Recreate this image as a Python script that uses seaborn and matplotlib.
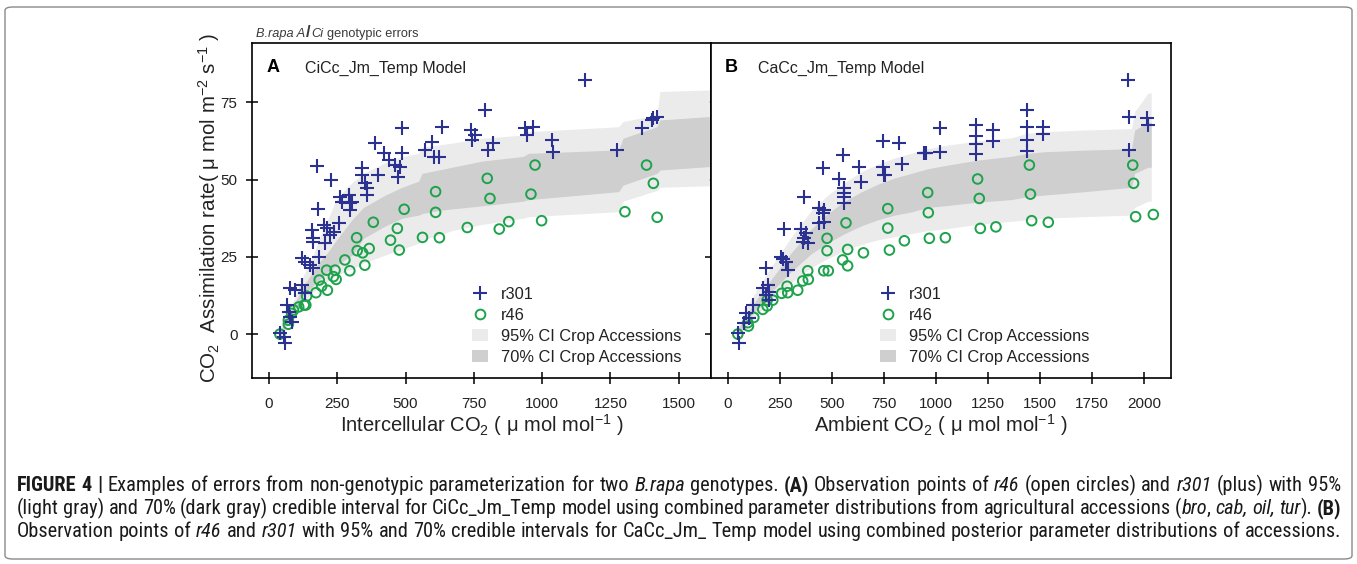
import re
import matplotlib
matplotlib.use("Agg")
import matplotlib.pyplot as plt
import seaborn as sns
from matplotlib import font_manager
from matplotlib.lines import Line2D
from matplotlib.patches import Patch, FancyBboxPatch

# ---------------- Panel A: assimilation vs intercellular CO2 ----------------
ci_r301 = [41, 54, 60, 66, 72, 78, 84, 78, 96, 121, 133, 121, 133, 151, 163, 182, 157, 163, 163, 200,
           206, 212, 224, 237, 255, 178, 176, 227, 261, 267, 292, 298, 298, 304, 340, 340, 353, 359, 359, 398,
           389, 422, 438, 462, 481, 487, 471, 487, 572, 597, 603, 621, 633, 739, 755, 743, 790, 821, 803, 937,
           968, 943, 1035, 1038, 1157, 1275, 1364, 1401, 1407, 1419]
a_ci_r301 = [0.2, -0.9, -3.0, 9.4, 7.2, 5.6, 4.0, 14.8, 14.2, 24.5, 23.4, 15.9, 13.2, 22.3, 21.3, 25.0, 33.7, 31.0, 29.9, 35.3,
             29.4, 34.2, 32.1, 33.1, 35.8, 40.5, 54.4, 49.9, 44.5, 42.8, 45.0, 42.3, 40.2, 42.8, 53.7, 51.5, 49.0, 47.2, 45.0, 51.5,
             61.7, 58.5, 56.3, 54.7, 54.2, 58.5, 51.0, 66.6, 59.6, 62.3, 57.4, 57.4, 67.0, 66.0, 64.4, 62.8, 72.5, 61.7, 59.6, 66.6,
             67.1, 64.4, 62.8, 59.0, 82.3, 59.6, 66.6, 69.3, 69.8, 70.4]
ci_r46 = [40, 71, 71, 83, 90, 109, 129, 135, 138, 172, 184, 193, 211, 214, 236, 242, 246, 278, 296, 321,
          323, 343, 351, 367, 382, 445, 470, 477, 495, 562, 610, 610, 624, 726, 799, 809, 843, 878, 959, 974,
          998, 1303, 1382, 1407, 1421]
a_ci_r46 = [0.0, 3.2, 4.5, 6.7, 7.8, 8.8, 9.4, 9.4, 12.3, 13.4, 17.5, 15.5, 20.7, 14.2, 18.6, 20.7, 17.7, 24.0, 20.5, 31.2,
            27.0, 26.3, 22.3, 27.7, 36.2, 30.4, 34.2, 27.2, 40.4, 31.3, 46.1, 39.4, 31.2, 34.5, 50.4, 43.9, 34.0, 36.4, 45.3, 54.7,
            36.7, 39.6, 54.7, 48.8, 37.8]

# credible bands for the crop accessions (panel A)
band_ci = [40, 60, 84, 121, 160, 182, 220, 243, 285, 304, 346, 426, 487, 548, 560, 621, 670, 780, 930, 950,
           1280, 1296, 1420, 1431, 1612]
ci_lo95 = [-1.5, 1.5, 5, 10, 13.5, 15, 17.5, 18.6, 20.5, 21, 23, 25.6, 27.5, 29.4, 30.5, 32, 33.5, 35.5, 37.5, 38,
           39.6, 43, 46.5, 47.5, 48]
ci_lo70 = [-0.8, 2.5, 6, 12, 15.5, 17.5, 20.5, 22, 24.5, 25.5, 31, 35, 37.5, 38.5, 39, 40, 40.5, 41.5, 43, 43.5,
           46.1, 48.2, 52, 53.1, 54.2]
ci_hi70 = [0.8, 4, 8, 15, 20, 23, 27, 30, 34.8, 37, 41, 45, 47.5, 49.5, 52, 53.1, 54, 56, 57.5, 58.5,
           59.6, 63.4, 67.1, 69.3, 70.4]
ci_hi95 = [1.5, 5.5, 9.5, 18, 25, 30.5, 38, 43, 47.5, 49, 52, 55.5, 57.4, 58.5, 60.5, 61.2, 61.8, 63.4, 64.4, 65.5,
           67.1, 68.8, 70.9, 78.5, 79]

# ---------------- Panel B: assimilation vs ambient CO2 ----------------
ca_r301 = [47, 54, 78, 87, 102, 119, 167, 191, 199, 183, 199, 183, 255, 263, 279, 287, 271, 351, 375, 367,
           359, 383, 364, 439, 463, 455, 439, 463, 455, 535, 551, 557, 557, 557, 557, 631, 639, 747, 824, 747,
           835, 752, 756, 944, 948, 952, 1019, 1019, 1192, 1192, 1192, 1192, 1273, 1273, 1437, 1437, 1437, 1437, 1516, 1516,
           1921, 1930, 1930, 2014, 2019]
a_ca_r301 = [0.2, -3.0, 3.5, 6.7, 5.1, 9.4, 14.8, 15.9, 13.7, 12.6, 11.0, 21.3, 25.0, 24.2, 23.4, 20.7, 33.9, 33.9, 32.6, 31.0,
             29.9, 29.4, 44.3, 40.7, 40.2, 39.1, 35.8, 36.4, 53.7, 50.1, 58.0, 47.2, 45.6, 44.5, 42.3, 54.2, 49.3, 62.5, 61.7, 54.2,
             54.9, 51.5, 51.5, 58.5, 58.5, 58.5, 66.6, 59.0, 67.7, 64.1, 61.5, 58.3, 66.1, 62.6, 72.5, 66.9, 62.8, 59.4, 66.9, 64.8,
             82.3, 70.2, 59.6, 69.8, 67.7]
ca_r46 = [47, 95, 98, 124, 167, 188, 188, 215, 258, 284, 287, 335, 359, 383, 386, 460, 482, 476, 476, 551,
          575, 575, 567, 651, 776, 768, 768, 848, 960, 963, 968, 1045, 1200, 1208, 1213, 1288, 1449, 1454, 1460, 1540,
          1946, 1950, 1960, 2045]
a_ca_r46 = [0.0, 3.7, 2.6, 5.4, 8.0, 11.0, 9.1, 11.0, 13.2, 15.5, 13.4, 14.2, 17.2, 20.5, 17.7, 20.5, 20.5, 31.0, 27.0, 24.0,
            27.4, 22.1, 36.0, 26.3, 27.2, 40.6, 34.3, 30.2, 45.8, 39.3, 31.0, 31.2, 50.2, 43.9, 34.2, 34.7, 54.7, 45.3, 36.7, 36.2,
            54.7, 48.8, 38.0, 38.7]

# credible bands for the crop accessions (panel B)
band_ca = [40, 60, 100, 150, 200, 250, 300, 350, 400, 480, 560, 640, 720, 800, 880, 960, 1040, 1200, 1360, 1440,
           1520, 1700, 1940, 1955, 2020, 2035]
ca_lo95 = [-1.5, 0, 3, 7, 10.5, 13.5, 16.5, 19, 21.5, 24.5, 27, 29, 30.5, 31.5, 32.5, 33.5, 34, 35.5, 36.5, 37,
           37.5, 38, 38.5, 41, 43, 43]
ca_lo70 = [-0.8, 1, 5, 9, 13, 16.5, 20, 23, 26, 29.5, 32.5, 35, 37, 38.5, 39.5, 41, 41.5, 42.7, 43.5, 44.5,
           45, 46, 47.5, 52, 54, 54]
ca_hi70 = [0.8, 3, 7.5, 12.5, 17, 21.5, 26, 30, 34, 39, 43, 46, 48.5, 50.5, 52, 53.5, 54.5, 56.3, 57.5, 58.5,
           59, 59.5, 60, 66, 68.5, 68.5]
ca_hi95 = [1.5, 4, 10, 15.5, 21, 26, 31, 35.5, 40, 45, 49, 52.5, 55, 57, 58.5, 60, 61, 62.5, 63.5, 65,
           65.5, 66, 66.5, 72, 78, 78]

y_ticks = [0, 25, 50, 75]
ci_ticks = [0, 250, 500, 750, 1000, 1250, 1500]
ca_ticks = [0, 250, 500, 750, 1000, 1250, 1500, 1750, 2000]
legend_labels = ["r301", "r46", "95% CI Crop Accessions", "70% CI Crop Accessions"]

caption_lines = [
    "**FIGURE 4 |** Examples of errors from non-genotypic parameterization for two *B.rapa* genotypes. "
    "**(A)** Observation points of *r46* (open circles) and *r301* (plus) with 95%",
    "(light gray) and 70% (dark gray) credible interval for CiCc_Jm_Temp model using combined parameter "
    "distributions from agricultural accessions (*bro*, *cab, oil, tur*). **(B)**",
    "Observation points of *r46* and *r301* with 95% and 70% credible intervals for CaCc_Jm_ Temp model "
    "using combined posterior parameter distributions of accessions.",
]

BLUE = "#2b3190"
GREEN = "#1ea24c"
LIGHT = "#ebebeb"
DARK = "#cfcfcf"
INK = "#1a1a1a"


def pick_font(candidates):
    """Return (family, stretch) of the first installed candidate."""
    for name, stretch in candidates:
        try:
            path = font_manager.findfont(
                font_manager.FontProperties(family=name, stretch=stretch),
                fallback_to_default=False)
        except Exception:
            continue
        if stretch == "normal" or "ondensed" in path or "arrow" in path:
            return name, stretch
    return "DejaVu Sans", "normal"


sns.set_theme(style="ticks")
base_font, _ = pick_font([("Liberation Sans", "normal"), ("Arial", "normal")])
cap_font, cap_stretch = pick_font([("Liberation Sans Narrow", "normal"),
                                   ("Roboto Condensed", "normal"),
                                   ("DejaVu Sans", "condensed"),
                                   ("Roboto", "condensed"),
                                   ("Roboto", "normal")])
plt.rcParams["font.family"] = [base_font, "DejaVu Sans"]
plt.rcParams["mathtext.fontset"] = "custom"
plt.rcParams["mathtext.rm"] = base_font
plt.rcParams["mathtext.it"] = base_font + ":italic"
plt.rcParams["mathtext.bf"] = base_font + ":bold"

W, H = 1357, 564
fig = plt.figure(figsize=(W / 100, H / 100), dpi=100)
fig.patch.set_facecolor("white")
renderer = fig.canvas.get_renderer()


def fx(x):
    return x / W


def fy(y):
    return 1 - y / H


def px_axes(x0, y0, x1, y1):
    return fig.add_axes([fx(x0), fy(y1), (x1 - x0) / W, (y1 - y0) / H])


# outer frame around figure and caption
frame = FancyBboxPatch((fx(5), fy(559)), fx(1352) - fx(5), fy(7) - fy(559),
                       boxstyle="round,pad=0,rounding_size=0.006", transform=fig.transFigure,
                       facecolor="none", edgecolor="#8a8a8a", linewidth=1.0)
fig.patches.append(frame)

axA = px_axes(252, 43, 711, 378)
axB = px_axes(711, 43, 1171, 378)


def draw_panel(ax, xs_band, lo95, hi95, lo70, hi70, x_plus, y_plus, x_circ, y_circ):
    ax.fill_between(xs_band, lo95, hi95, color=LIGHT, linewidth=0, zorder=1)
    ax.fill_between(xs_band, lo70, hi70, color=DARK, linewidth=0, zorder=2)
    sns.scatterplot(x=x_circ, y=y_circ, marker="o", s=48, color=GREEN, facecolor="none",
                    edgecolor=GREEN, linewidth=1.4, ax=ax, zorder=3)
    sns.scatterplot(x=x_plus, y=y_plus, marker="+", s=115, color=BLUE, linewidth=1.5,
                    ax=ax, zorder=4)


draw_panel(axA, band_ci, ci_lo95, ci_hi95, ci_lo70, ci_hi70, ci_r301, a_ci_r301, ci_r46, a_ci_r46)
draw_panel(axB, band_ca, ca_lo95, ca_hi95, ca_lo70, ca_hi70, ca_r301, a_ca_r301, ca_r46, a_ca_r46)

for ax, xlim, xt in [(axA, (-62, 1618), ci_ticks), (axB, (-82, 2130), ca_ticks)]:
    ax.set_xlim(*xlim)
    ax.set_ylim(-14.2, 94.2)
    ax.set_xticks(xt)
    ax.set_yticks(y_ticks)
    ax.set_xlabel("")
    ax.set_ylabel("")
    ax.set_facecolor("white")
    for sp in ax.spines.values():
        sp.set_visible(True)
        sp.set_linewidth(1.2)
        sp.set_color("black")
        sp.set_zorder(6)
    ax.tick_params(axis="x", direction="inout", length=8, width=1.1, labelsize=11,
                   pad=9.5, colors="black", labelcolor="#222222")
    ax.tick_params(axis="y", direction="inout", length=8, width=1.1, labelsize=11,
                   pad=6.5, colors="black", labelcolor="#222222")

axA.tick_params(axis="y", left=True, right=True, labelleft=True, labelright=False)
axB.tick_params(axis="y", left=False, right=False, labelleft=False)

# panel tags and model names
for tag, name, xt, xn in [("A", "CiCc_Jm_Temp Model", 267, 305),
                          ("B", "CaCc_Jm_Temp Model", 725, 758)]:
    fig.text(fx(xt), fy(68), tag, fontsize=13, fontweight="bold", color="black",
             ha="left", va="center")
    fig.text(fx(xn), fy(68), name, fontsize=11.5, color="#222222", ha="left", va="center")

# legends
handles = [
    Line2D([], [], linestyle="none", marker="+", markersize=10.5, markeredgewidth=1.5, color=BLUE),
    Line2D([], [], linestyle="none", marker="o", markersize=7, markeredgewidth=1.4,
           markerfacecolor="none", markeredgecolor=GREEN),
    Patch(facecolor=LIGHT, edgecolor="none"),
    Patch(facecolor=DARK, edgecolor="none"),
]
for ax, x0 in [(axA, 472), (axB, 880)]:
    leg = ax.legend(handles, legend_labels, loc="upper left",
                    bbox_to_anchor=(fx(x0), fy(287)), bbox_transform=fig.transFigure,
                    frameon=False, fontsize=11.8, handlelength=1.0, handleheight=0.75,
                    handletextpad=0.75, labelspacing=0.36, borderpad=0, borderaxespad=0)
    for t in leg.get_texts():
        t.set_color("#222222")

# axis titles
fig.text(fx(481.5), fy(432), "Intercellular CO$_2$ ( \u03bc mol mol$^{-1}$ )", fontsize=14.5,
         ha="center", va="baseline", color="#222222")
fig.text(fx(941), fy(432), "Ambient CO$_2$ ( \u03bc mol mol$^{-1}$ )", fontsize=14.5,
         ha="center", va="baseline", color="#222222")
fig.text(fx(216), fy(208), "CO$_2$  Assimilation rate( \u03bc mol m$^{-2}$ s$^{-1}$ )", fontsize=14.8,
         rotation=90, rotation_mode="anchor", ha="center", va="baseline", color="#222222")


# small heading above panel A, built from consecutive styled pieces
def draw_sequence(pieces, x, y, size, color):
    for s, kw in pieces:
        t = fig.text(fx(x), fy(y), s, fontsize=kw.get("size", size), color=color,
                     fontstyle=kw.get("style", "normal"), fontweight=kw.get("weight", "normal"),
                     ha="left", va="baseline")
        x += t.get_window_extent(renderer).width + kw.get("after", 0)


draw_sequence([("B.rapa A", {"style": "italic", "after": 1}),
               ("/", {"weight": "bold", "size": 12, "after": 1}),
               ("Ci", {"style": "italic", "after": 3}),
               ("genotypic errors", {})],
              256, 37, 9.2, "#3a3a3a")


# ---------------- caption (justified, mixed styles) ----------------
def parse_markup(line):
    pieces = []
    for tok in re.split(r"(\*\*.+?\*\*|\*.+?\*)", line):
        if not tok:
            continue
        if tok.startswith("**"):
            pieces.append((tok[2:-2], "bold"))
        elif tok.startswith("*"):
            pieces.append((tok[1:-1], "italic"))
        else:
            pieces.append((tok, "normal"))
    words = [[]]
    for text, st in pieces:
        parts = text.split(" ")
        for i, p in enumerate(parts):
            if i > 0:
                words.append([])
            if p:
                words[-1].append((p, st))
    return [w for w in words if w]


def make_text(s, st, size):
    kw = dict(fontsize=size, family=[cap_font, "DejaVu Sans"], fontstretch=cap_stretch,
              color=INK, ha="left", va="baseline")
    if st == "bold":
        kw["fontweight"] = "bold"
    elif st == "italic":
        kw["fontstyle"] = "italic"
    return fig.text(0, 0, s, **kw)


def text_width(s, st, size):
    t = make_text(s, st, size)
    w = t.get_window_extent(renderer).width
    t.remove()
    return w


CAP_X0, CAP_X1 = 17, 1341
parsed = [parse_markup(line) for line in caption_lines]

# choose one caption size so the longest line fills the column with normal word spacing
ref_size = 10.0
space_ref = text_width("a a", "normal", ref_size) - text_width("aa", "normal", ref_size)
natural = []
for words in parsed:
    wsum = sum(text_width(s, st, ref_size) for w in words for s, st in w)
    natural.append(wsum + space_ref * (len(words) - 1))
cap_size = min(15.0, ref_size * (CAP_X1 - CAP_X0) / max(natural) * 0.995)


def draw_justified(words, y, x0, x1, size):
    items = []
    total = 0.0
    for w in words:
        row = []
        wwidth = 0.0
        for s, st in w:
            t = make_text(s, st, size)
            wd = t.get_window_extent(renderer).width
            row.append((t, wd))
            wwidth += wd
        items.append(row)
        total += wwidth
    gap = (x1 - x0 - total) / max(len(items) - 1, 1)
    x = x0
    for row in items:
        for t, wd in row:
            t.set_position((fx(x), fy(y)))
            x += wd
        x += gap


for i, words in enumerate(parsed):
    draw_justified(words, 491 + 23 * i, CAP_X0, CAP_X1, cap_size)

fig.savefig("out.png", dpi=100, facecolor="white")
